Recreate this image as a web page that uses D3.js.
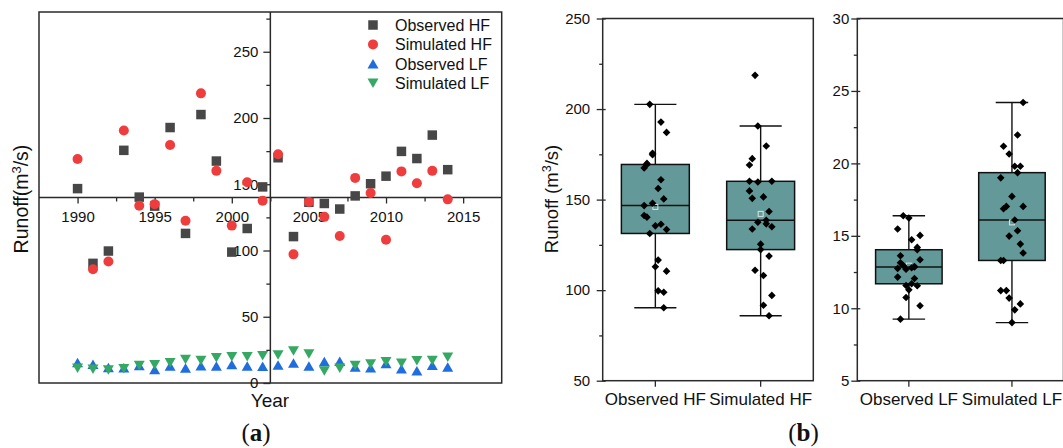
<!DOCTYPE html>
<html>
<head>
<meta charset="utf-8">
<script src="https://cdn.jsdelivr.net/npm/d3@7"></script>
<style>
  body { margin: 0; background: #fff; }
  svg { display: block; font-family: "Liberation Sans", Arial, sans-serif; }
</style>
</head>
<body>
<svg id="chart" width="1063" height="448"></svg>
<script>
// data
const years = [1990, 1991, 1992, 1993, 1994, 1995, 1996, 1997, 1998, 1999, 2000, 2001, 2002,
  2003, 2004, 2005, 2006, 2007, 2008, 2009, 2010, 2011, 2012, 2013, 2014];
const observedHF = [146.7, 90.3, 99.6, 175.6, 140.3, 133.5, 192.8, 112.9, 202.6, 167.5, 98.8, 116.6, 148.0,
  170.0, 110.5, 136.4, 135.5, 131.3, 141.2, 150.4, 156.1, 174.8, 169.4, 187.1, 161.0];
const simulatedHF = [169.1, 85.9, 91.7, 190.6, 133.8, 135.0, 179.6, 122.4, 218.6, 160.1, 118.8, 151.5, 137.5,
  172.6, 97.1, 136.6, 125.4, 111.0, 154.8, 143.4, 108.1, 159.7, 150.7, 160.1, 138.6];
const observedLF = [15.47, 14.2, 11.69, 11.57, 13.14, 10.17, 12.85, 11.27, 12.95, 12.75, 14.04, 12.8, 12.7,
  13.62, 15.03, 12.88, 16.23, 16.39, 12.15, 11.55, 14.73, 10.74, 9.25, 13.35, 12.05];
const simulatedLF = [11.22, 10.3, 9.89, 10.7, 13.3, 13.81, 15.35, 17.72, 17.03, 19.0, 19.8, 19.8, 20.65,
  21.18, 24.2, 21.96, 9.01, 11.22, 13.3, 14.43, 16.09, 14.98, 16.87, 17.03, 19.36];

const seriesNames = ['Observed HF', 'Simulated HF', 'Observed LF', 'Simulated LF'];
const hfCategories = ['Observed HF', 'Simulated HF'];
const lfCategories = ['Observed LF', 'Simulated LF'];

const yearTicks = [1990, 1995, 2000, 2005, 2010, 2015];
const yearMinorTicks = [1992.5, 1997.5, 2002.5, 2007.5, 2012.5];
const runoffTicks = [0, 50, 100, 150, 200, 250];
const runoffMinorTicks = [25, 75, 125, 175, 225, 275];
const hfTicks = [50, 100, 150, 200, 250];
const hfMinorTicks = [75, 125, 175, 225];
const lfTicks = [5, 10, 15, 20, 25, 30];
const lfMinorTicks = [7.5, 12.5, 17.5, 22.5, 27.5];

const colors = { sq: '#474747', circ: '#ef3d3d', up: '#1f6ee0', down: '#35a864' };
const axisColor = '#2a2a2a';

const svg = d3.select('#chart');

function styleAxis(g) {
  g.select('.domain').remove();
  g.selectAll('line').attr('stroke', axisColor).attr('stroke-width', 1.3);
  g.selectAll('text').attr('fill', '#111').style('font-size', '15px');
}

// symbol paths, centred on their bounding box
const square = s => `M${-s / 2},${-s / 2}h${s}v${s}h${-s}Z`;
const triUp = (w, h) => `M0,${-h / 2}L${w / 2},${h / 2}L${-w / 2},${h / 2}Z`;
const triDown = (w, h) => `M0,${h / 2}L${w / 2},${-h / 2}L${-w / 2},${-h / 2}Z`;
const diamond = r => `M0,${-r}L${r},0L0,${r}L${-r},0Z`;

// ---------------- panel (a) ----------------
const xA = d3.scaleLinear().domain([1987.5, 2017.5]).range([39, 501.7]);
const yA = d3.scaleLinear().domain([0, 280]).range([383, 12]);
const gA = svg.append('g');

gA.append('rect')
  .attr('x', xA(1987.5)).attr('y', yA(280))
  .attr('width', xA(2017.5) - xA(1987.5)).attr('height', yA(0) - yA(280))
  .attr('fill', 'none').attr('stroke', axisColor).attr('stroke-width', 1.5);

const crossY = yA(140), crossX = xA(2002.5);

gA.append('line').attr('x1', xA(1987.5)).attr('x2', xA(2017.5))
  .attr('y1', crossY).attr('y2', crossY).attr('stroke', axisColor).attr('stroke-width', 1.5);
gA.append('line').attr('x1', crossX).attr('x2', crossX)
  .attr('y1', yA(280)).attr('y2', yA(0)).attr('stroke', axisColor).attr('stroke-width', 1.5);

gA.append('g').attr('transform', `translate(0,${crossY})`)
  .call(d3.axisBottom(xA).tickValues(yearTicks).tickSize(6).tickPadding(8).tickFormat(d3.format('d')))
  .call(styleAxis);
gA.append('g').attr('transform', `translate(0,${crossY})`)
  .call(d3.axisBottom(xA).tickValues(yearMinorTicks).tickSize(4).tickFormat(''))
  .call(styleAxis);
gA.append('g').attr('transform', `translate(${crossX},0)`)
  .call(d3.axisLeft(yA).tickValues(runoffTicks).tickSize(7).tickPadding(5))
  .call(styleAxis);
gA.append('g').attr('transform', `translate(${crossX},0)`)
  .call(d3.axisLeft(yA).tickValues(runoffMinorTicks).tickSize(4).tickFormat(''))
  .call(styleAxis);

// points
gA.append('g').selectAll('path').data(observedHF).join('path')
  .attr('transform', (d, i) => `translate(${xA(years[i])},${yA(d)})`)
  .attr('d', square(9.5)).attr('fill', colors.sq);
gA.append('g').selectAll('circle').data(simulatedHF).join('circle')
  .attr('cx', (d, i) => xA(years[i])).attr('cy', d => yA(d))
  .attr('r', 5).attr('fill', colors.circ);
gA.append('g').selectAll('path').data(observedLF).join('path')
  .attr('transform', (d, i) => `translate(${xA(years[i])},${yA(d)})`)
  .attr('d', triUp(11, 9.5)).attr('fill', colors.up);
gA.append('g').selectAll('path').data(simulatedLF).join('path')
  .attr('transform', (d, i) => `translate(${xA(years[i])},${yA(d)})`)
  .attr('d', triDown(11, 9.5)).attr('fill', colors.down);

// legend
const legend = gA.append('g').attr('transform', 'translate(373,25)');
const legendRow = legend.selectAll('g').data(seriesNames).join('g')
  .attr('transform', (d, i) => `translate(0,${i * 19.4})`);
legendRow.append('path').attr('d', (d, i) => [square(9.5), null, triUp(11, 9.5), triDown(11, 9.5)][i])
  .attr('fill', (d, i) => [colors.sq, null, colors.up, colors.down][i]);
legendRow.filter((d, i) => i === 1).append('circle').attr('r', 5).attr('fill', colors.circ);
legendRow.append('text').attr('x', 22).attr('y', 6)
  .style('font-size', '16px').attr('fill', '#111').text(d => d);

gA.append('text').attr('x', 270).attr('y', 407).attr('text-anchor', 'middle')
  .style('font-size', '19px').attr('fill', '#111').text('Year');

const yLabA = gA.append('text').attr('transform', 'translate(28,199) rotate(-90)')
  .attr('text-anchor', 'middle').style('font-size', '19.5px').attr('fill', '#111');
yLabA.append('tspan').text('Runoff(m');
yLabA.append('tspan').attr('dy', -7).style('font-size', '13px').text('3');
yLabA.append('tspan').attr('dy', 7).text('/s)');

// ---------------- panel (b) ----------------
function boxPanel(opts) {
  const { cats, values, x0, x1, domain, yTicksMajor, yTicksMinor, labelPad, capFrac } = opts;
  const top = 18.5, bottom = 380.7;
  const x = d3.scaleBand().domain(cats).range([x0, x1]);
  const y = d3.scaleLinear().domain(domain).range([bottom, top]);
  const g = svg.append('g');

  g.append('rect').attr('x', x0).attr('y', top).attr('width', x1 - x0).attr('height', bottom - top)
    .attr('fill', 'none').attr('stroke', axisColor).attr('stroke-width', 1.5);

  const ya = g.append('g').attr('transform', `translate(${x0},0)`)
    .call(d3.axisLeft(y).tickValues(yTicksMajor).tickSize(6).tickPadding(labelPad))
    .call(styleAxis);
  ya.selectAll('line').attr('x1', 3);
  g.append('g').attr('transform', `translate(${x0},0)`)
    .call(d3.axisLeft(y).tickValues(yTicksMinor).tickSize(3.5).tickFormat(''))
    .call(styleAxis);
  const xa = g.append('g').attr('transform', `translate(0,${bottom})`)
    .call(d3.axisBottom(x).tickSize(6).tickPadding(6))
    .call(styleAxis);
  xa.selectAll('text').style('font-size', '17px');

  const bw = x.bandwidth() * 0.645, cw = x.bandwidth() * capFrac;
  cats.forEach((c, k) => {
    const v = values[k].slice().sort(d3.ascending);
    const q1 = d3.quantile(v, 0.25), med = d3.quantile(v, 0.5), q3 = d3.quantile(v, 0.75);
    const iqr = q3 - q1;
    const lo = d3.min(v.filter(d => d >= q1 - 1.5 * iqr));
    const hi = d3.max(v.filter(d => d <= q3 + 1.5 * iqr));
    const cx = x(c) + x.bandwidth() / 2;
    const bg = g.append('g');
    bg.append('line').attr('x1', cx).attr('x2', cx).attr('y1', y(hi)).attr('y2', y(lo))
      .attr('stroke', '#111').attr('stroke-width', 1.4);
    [hi, lo].forEach(w => bg.append('line').attr('x1', cx - cw / 2).attr('x2', cx + cw / 2)
      .attr('y1', y(w)).attr('y2', y(w)).attr('stroke', '#111').attr('stroke-width', 1.4));
    bg.append('rect').attr('x', cx - bw / 2).attr('y', y(q3)).attr('width', bw).attr('height', y(q1) - y(q3))
      .attr('fill', '#639a99').attr('stroke', '#111').attr('stroke-width', 1.5);
    bg.append('line').attr('x1', cx - bw / 2).attr('x2', cx + bw / 2).attr('y1', y(med)).attr('y2', y(med))
      .attr('stroke', '#111').attr('stroke-width', 1.5);
    const mean = d3.mean(v);
    bg.append('rect').attr('x', cx - 2.5).attr('y', y(mean) - 2.5).attr('width', 5).attr('height', 5)
      .attr('fill', 'none').attr('stroke', '#d8e4e4').attr('stroke-width', 1);
    // deterministic jitter of the raw points
    bg.append('g').selectAll('path').data(values[k]).join('path')
      .attr('transform', (d, i) => `translate(${cx + ((i * 7) % 9 - 4) * 2.8},${y(d)})`)
      .attr('d', diamond(3.8)).attr('fill', '#000');
  });
  return g;
}

boxPanel({ cats: hfCategories, values: [observedHF, simulatedHF], x0: 602.7, x1: 813.3,
  domain: [50, 250], yTicksMajor: hfTicks, yTicksMinor: hfMinorTicks, labelPad: 6.5, capFrac: 0.4 });
boxPanel({ cats: lfCategories, values: [observedLF, simulatedLF], x0: 857.3, x1: 1063.5,
  domain: [5, 30], yTicksMajor: lfTicks, yTicksMinor: lfMinorTicks, labelPad: 2, capFrac: 0.315 });

const yLabB = svg.append('text').attr('transform', 'translate(558,199) rotate(-90)')
  .attr('text-anchor', 'middle').style('font-size', '18.5px').attr('fill', '#111');
yLabB.append('tspan').text('Runoff (m');
yLabB.append('tspan').attr('dy', -7).style('font-size', '12.5px').text('3');
yLabB.append('tspan').attr('dy', 7).text('/s)');

// panel letters
[['a', 256, 441], ['b', 803.5, 441]].forEach(([t, px, py]) => {
  const lab = svg.append('text').attr('x', px).attr('y', py).attr('text-anchor', 'middle')
    .style('font-family', '"Liberation Serif", "DejaVu Serif", serif').style('font-size', '25px').attr('fill', '#111');
  lab.append('tspan').text('(');
  lab.append('tspan').style('font-weight', 'bold').text(t);
  lab.append('tspan').text(')');
});
</script>
</body>
</html>
